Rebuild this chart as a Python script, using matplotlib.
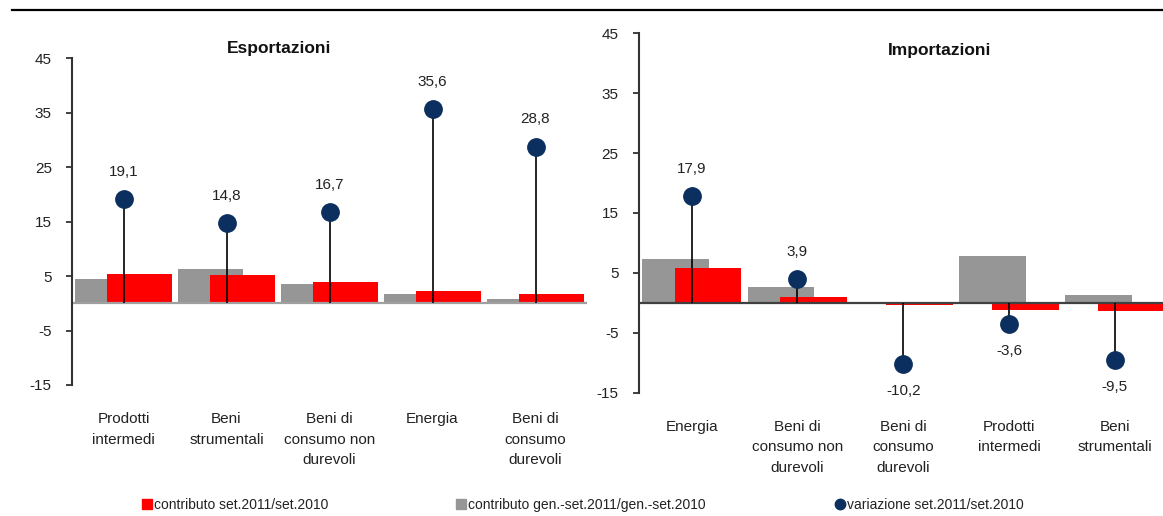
import matplotlib
matplotlib.use("Agg")
import matplotlib.pyplot as plt
from matplotlib.lines import Line2D
import numpy as np

plt.rcParams['font.family'] = ['Liberation Sans', 'DejaVu Sans']
plt.rcParams['axes.unicode_minus'] = False

# Esportazioni
exp_categories = ['Prodotti\nintermedi', 'Beni\nstrumentali', 'Beni di\nconsumo non\ndurevoli',
                  'Energia', 'Beni di\nconsumo\ndurevoli']
exp_contrib_gen = [4.4, 6.3, 3.5, 1.7, 0.8]
exp_contrib_set = [5.4, 5.2, 3.9, 2.3, 1.7]
exp_variazione = [19.1, 14.8, 16.7, 35.6, 28.8]

# Importazioni
imp_categories = ['Energia', 'Beni di\nconsumo non\ndurevoli', 'Beni di\nconsumo\ndurevoli',
                  'Prodotti\nintermedi', 'Beni\nstrumentali']
imp_contrib_gen = [7.3, 2.6, 0.0, 7.9, 1.3]
imp_contrib_set = [5.8, 0.9, -0.35, -1.25, -1.35]
imp_variazione = [17.9, 3.9, -10.2, -3.6, -9.5]

yticks = [-15, -5, 5, 15, 25, 35, 45]

RED = '#ff0000'
GRAY = '#969696'
NAVY = '#0b2f5e'

W, H = 1163, 516
fig = plt.figure(figsize=(W / 100, H / 100), dpi=100)


def fmt(v):
    return f"{v:.1f}".replace('.', ',')


def panel(rect, cats, gen, cur, var, zero_color):
    ax = fig.add_axes(rect)
    x = np.arange(len(cats))
    bw = 0.63
    ax.bar(x - 0.155, gen, width=bw, color=GRAY, zorder=2)
    ax.bar(x + 0.155, cur, width=bw, color=RED, zorder=2.2)
    ax.axhline(0, color=zero_color, lw=1.6, zorder=2.5)
    ax.vlines(x, 0, var, color='black', lw=1.2, zorder=3)
    ax.plot(x, var, 'o', color=NAVY, markersize=12.5, zorder=4)
    for xi, v in zip(x, var):
        off = 19.5 if v >= 0 else -19.5
        ax.annotate(fmt(v), (xi, v), xytext=(0, off), textcoords='offset points',
                    ha='center', va='center', fontsize=11, color='#222222')
    ax.set_xlim(-0.5, len(cats) - 0.5)
    ax.set_ylim(-15, 45)
    ax.set_yticks(yticks)
    ax.set_yticklabels([str(t) for t in yticks])
    ax.set_xticks(x)
    ax.set_xticklabels(cats, fontsize=11, linespacing=1.6, color='#222222')
    for s in ['top', 'right', 'bottom']:
        ax.spines[s].set_visible(False)
    ax.spines['left'].set_color('#333333')
    ax.spines['left'].set_linewidth(1.5)
    ax.tick_params(axis='y', direction='out', length=4.5, width=1.3, color='#333333',
                   labelsize=11, labelcolor='#222222', pad=10)
    ax.tick_params(axis='x', length=0, pad=19.5)
    return ax


ax1 = panel([72 / W, 1 - 385 / H, (587 - 72) / W, (385 - 58.3) / H],
            exp_categories, exp_contrib_gen, exp_contrib_set, exp_variazione, '#a0a0a0')
ax2 = panel([638.7 / W, 1 - 392.7 / H, (1167.7 - 638.7) / W, (392.7 - 33.3) / H],
            imp_categories, imp_contrib_gen, imp_contrib_set, imp_variazione, '#404040')

fig.text(279 / W, 1 - 49 / H, 'Esportazioni', ha='center', va='center',
         fontsize=12.5, fontweight='bold', color='#111111')
fig.text(940 / W, 1 - 50 / H, 'Importazioni', ha='center', va='center',
         fontsize=12.5, fontweight='bold', color='#111111')

# horizontal rule at the top
fig.add_artist(Line2D([12 / W, 1.0], [1 - 10 / H, 1 - 10 / H], color='black', lw=1.6,
                      transform=fig.transFigure))

# legend entries
entries = [
    (Line2D([], [], marker='s', ls='none', color=RED, markersize=7.5), 'contributo set.2011/set.2010', 141),
    (Line2D([], [], marker='s', ls='none', color=GRAY, markersize=7.5), 'contributo gen.-set.2011/gen.-set.2010', 455),
    (Line2D([], [], marker='o', ls='none', color=NAVY, markersize=7.5), 'variazione set.2011/set.2010', 834),
]
for handle, label, xpos in entries:
    fig.legend(handles=[handle], labels=[label], loc='center left',
               bbox_to_anchor=(xpos / W, 1 - 505 / H), frameon=False, fontsize=10,
               handlelength=0.8, handletextpad=0.15, borderpad=0, borderaxespad=0,
               labelcolor='#222222')

fig.savefig('out.png', dpi=100)
